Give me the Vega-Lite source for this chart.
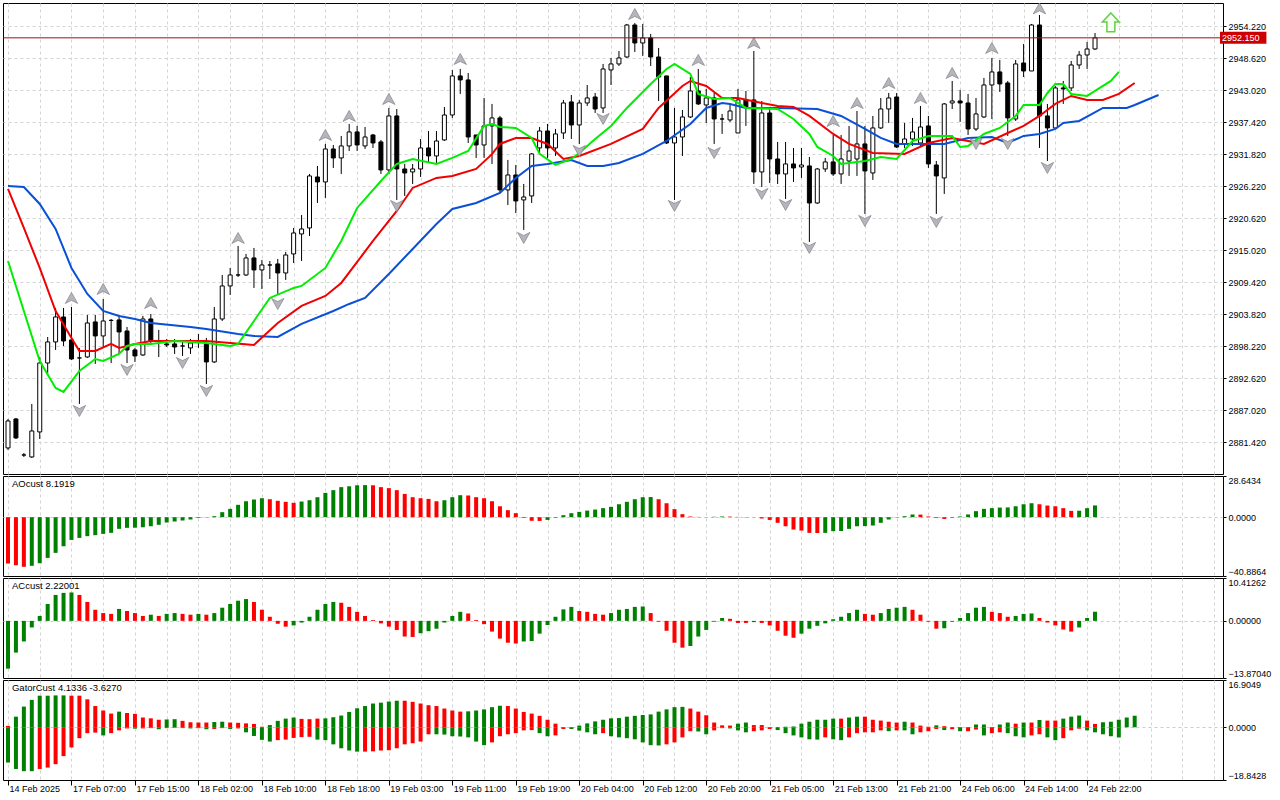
{
  "$schema": "https://vega.github.io/schema/vega-lite/v6.json",
  "description": "Gold H1 with Alligator, fractals, AO, AC and Gator panels",
  "background": "white",
  "padding": {"left": 2, "top": 2, "right": 0, "bottom": 0},
  "bounds": "flush",
  "spacing": 2,
  "config": {
    "view": {"stroke": "#000000", "strokeWidth": 1},
    "axis": {"labelFont": "Liberation Sans", "labelFontSize": 9, "labelColor": "#000000", "tickColor": "#000000", "gridColor": "#d4d4d4", "gridDash": [3, 3], "domain": false, "tickSize": 3, "labelPadding": 2, "labelOverlap": false},
    "text": {"font": "Liberation Sans", "fontSize": 9.5, "color": "#000000"}
  },
  "datasets": {
    "candles": [
      {"i":0,"o":2880.38,"h":2885.45,"l":2880.03,"c":2885.1},
      {"i":1,"o":2885.45,"h":2885.63,"l":2881.95,"c":2882.13},
      {"i":2,"o":2879.15,"h":2879.5,"l":2878.8,"c":2879.15},
      {"i":3,"o":2878.8,"h":2888.08,"l":2878.63,"c":2883.35},
      {"i":4,"o":2883.18,"h":2896.3,"l":2881.95,"c":2895.25},
      {"i":5,"o":2895.25,"h":2899.8,"l":2893.33,"c":2898.93},
      {"i":6,"o":2898.93,"h":2904.88,"l":2897.53,"c":2903.3},
      {"i":7,"o":2903.3,"h":2904.88,"l":2898.23,"c":2899.1},
      {"i":8,"o":2899.28,"h":2905.05,"l":2895.78,"c":2895.95},
      {"i":9,"o":2896.13,"h":2897.88,"l":2888.08,"c":2896.13},
      {"i":10,"o":2896.3,"h":2903.65,"l":2896.13,"c":2902.25},
      {"i":11,"o":2902.43,"h":2903.65,"l":2895.08,"c":2899.98},
      {"i":12,"o":2899.98,"h":2906.45,"l":2898.05,"c":2902.6},
      {"i":13,"o":2902.7,"h":2902.95,"l":2895.25,"c":2902.7},
      {"i":14,"o":2902.78,"h":2903.65,"l":2896.83,"c":2900.68},
      {"i":15,"o":2900.85,"h":2901.55,"l":2895.25,"c":2897.53},
      {"i":16,"o":2897.53,"h":2897.88,"l":2895.43,"c":2896.48},
      {"i":17,"o":2896.65,"h":2903.48,"l":2896.48,"c":2902.95},
      {"i":18,"o":2902.95,"h":2903.83,"l":2898.75,"c":2899.1},
      {"i":19,"o":2899.1,"h":2901.03,"l":2896.3,"c":2899.1},
      {"i":20,"o":2898.58,"h":2899.45,"l":2898.05,"c":2898.4},
      {"i":21,"o":2898.58,"h":2899.45,"l":2896.83,"c":2898.05},
      {"i":22,"o":2898.23,"h":2899.1,"l":2896.48,"c":2898.23},
      {"i":23,"o":2897.88,"h":2899.45,"l":2896.83,"c":2898.75},
      {"i":24,"o":2899.1,"h":2900.33,"l":2897.88,"c":2899.1},
      {"i":25,"o":2898.58,"h":2899.63,"l":2891.58,"c":2895.43},
      {"i":26,"o":2895.43,"h":2905.05,"l":2895.25,"c":2902.95},
      {"i":27,"o":2902.95,"h":2910.65,"l":2902.6,"c":2908.73},
      {"i":28,"o":2908.73,"h":2911.88,"l":2907.15,"c":2910.65},
      {"i":29,"o":2910.65,"h":2915.73,"l":2910.3,"c":2910.65},
      {"i":30,"o":2910.65,"h":2914.33,"l":2910.48,"c":2913.63},
      {"i":31,"o":2913.63,"h":2915.38,"l":2908.38,"c":2911.53},
      {"i":32,"o":2911.53,"h":2913.28,"l":2908.2,"c":2912.4},
      {"i":33,"o":2912.4,"h":2913.1,"l":2909.95,"c":2912.4},
      {"i":34,"o":2912.58,"h":2913.45,"l":2907.33,"c":2911.0},
      {"i":35,"o":2911.0,"h":2914.68,"l":2909.78,"c":2914.15},
      {"i":36,"o":2914.33,"h":2918.88,"l":2912.75,"c":2918.0},
      {"i":37,"o":2917.83,"h":2921.15,"l":2913.1,"c":2918.7},
      {"i":38,"o":2918.88,"h":2928.33,"l":2917.48,"c":2927.98},
      {"i":39,"o":2927.8,"h":2929.73,"l":2923.25,"c":2926.93},
      {"i":40,"o":2926.93,"h":2933.58,"l":2924.13,"c":2932.7},
      {"i":41,"o":2932.7,"h":2933.4,"l":2929.38,"c":2931.13},
      {"i":42,"o":2931.13,"h":2934.98,"l":2928.33,"c":2933.23},
      {"i":43,"o":2933.23,"h":2937.08,"l":2932.35,"c":2935.68},
      {"i":44,"o":2935.68,"h":2936.73,"l":2932.35,"c":2933.4},
      {"i":45,"o":2933.23,"h":2936.55,"l":2932.7,"c":2934.8},
      {"i":46,"o":2935.15,"h":2935.33,"l":2932.88,"c":2933.75},
      {"i":47,"o":2933.93,"h":2934.28,"l":2928.33,"c":2929.03},
      {"i":48,"o":2929.03,"h":2939.88,"l":2928.33,"c":2938.48},
      {"i":49,"o":2938.48,"h":2939.7,"l":2923.78,"c":2929.2},
      {"i":50,"o":2929.2,"h":2930.08,"l":2924.48,"c":2928.5},
      {"i":51,"o":2928.68,"h":2930.08,"l":2926.58,"c":2929.2},
      {"i":52,"o":2929.2,"h":2934.45,"l":2927.8,"c":2932.88},
      {"i":53,"o":2932.88,"h":2935.85,"l":2930.25,"c":2931.48},
      {"i":54,"o":2931.48,"h":2935.85,"l":2930.25,"c":2934.1},
      {"i":55,"o":2934.28,"h":2940.05,"l":2934.1,"c":2938.65},
      {"i":56,"o":2938.65,"h":2946.53,"l":2938.13,"c":2945.48},
      {"i":57,"o":2945.48,"h":2946.7,"l":2942.33,"c":2944.78},
      {"i":58,"o":2944.78,"h":2946.0,"l":2933.75,"c":2934.8},
      {"i":59,"o":2935.15,"h":2935.15,"l":2931.13,"c":2933.4},
      {"i":60,"o":2933.4,"h":2941.63,"l":2931.13,"c":2936.73},
      {"i":61,"o":2936.73,"h":2940.58,"l":2930.08,"c":2938.13},
      {"i":62,"o":2938.13,"h":2938.48,"l":2925.0,"c":2925.53},
      {"i":63,"o":2925.53,"h":2930.78,"l":2922.9,"c":2928.15},
      {"i":64,"o":2928.15,"h":2929.9,"l":2921.5,"c":2923.6},
      {"i":65,"o":2923.78,"h":2926.58,"l":2918.53,"c":2924.3},
      {"i":66,"o":2924.48,"h":2932.0,"l":2923.25,"c":2931.83},
      {"i":67,"o":2932.88,"h":2936.55,"l":2932.0,"c":2935.85},
      {"i":68,"o":2935.85,"h":2937.08,"l":2931.13,"c":2932.88},
      {"i":69,"o":2932.88,"h":2936.2,"l":2931.48,"c":2935.33},
      {"i":70,"o":2935.5,"h":2941.28,"l":2934.45,"c":2940.75},
      {"i":71,"o":2940.93,"h":2942.15,"l":2934.45,"c":2936.9},
      {"i":72,"o":2936.9,"h":2941.28,"l":2933.58,"c":2940.75},
      {"i":73,"o":2940.75,"h":2943.9,"l":2940.23,"c":2941.63},
      {"i":74,"o":2941.8,"h":2942.5,"l":2939.0,"c":2939.7},
      {"i":75,"o":2939.88,"h":2947.58,"l":2939.0,"c":2946.7},
      {"i":76,"o":2946.53,"h":2948.63,"l":2943.9,"c":2947.58},
      {"i":77,"o":2947.58,"h":2949.85,"l":2947.23,"c":2948.63},
      {"i":78,"o":2948.8,"h":2954.58,"l":2948.63,"c":2954.4},
      {"i":79,"o":2954.4,"h":2954.75,"l":2949.68,"c":2951.25},
      {"i":80,"o":2951.25,"h":2954.58,"l":2948.98,"c":2952.13},
      {"i":81,"o":2952.13,"h":2952.83,"l":2947.23,"c":2948.8},
      {"i":82,"o":2948.8,"h":2950.38,"l":2941.1,"c":2945.3},
      {"i":83,"o":2945.48,"h":2945.48,"l":2933.58,"c":2933.75},
      {"i":84,"o":2933.75,"h":2939.88,"l":2923.78,"c":2934.8},
      {"i":85,"o":2934.8,"h":2939.53,"l":2931.48,"c":2938.3},
      {"i":86,"o":2938.3,"h":2945.3,"l":2938.13,"c":2942.85},
      {"i":87,"o":2942.85,"h":2946.7,"l":2940.4,"c":2940.58},
      {"i":88,"o":2940.4,"h":2943.2,"l":2937.25,"c":2941.63},
      {"i":89,"o":2941.63,"h":2942.5,"l":2933.58,"c":2937.95},
      {"i":90,"o":2937.95,"h":2938.83,"l":2935.33,"c":2937.95},
      {"i":91,"o":2937.78,"h":2940.58,"l":2937.43,"c":2939.35},
      {"i":92,"o":2935.5,"h":2943.2,"l":2935.5,"c":2941.28},
      {"i":93,"o":2941.28,"h":2942.85,"l":2936.73,"c":2940.05},
      {"i":94,"o":2941.28,"h":2949.85,"l":2926.58,"c":2928.68},
      {"i":95,"o":2928.68,"h":2941.1,"l":2926.05,"c":2939.0},
      {"i":96,"o":2939.0,"h":2939.88,"l":2926.75,"c":2930.95},
      {"i":97,"o":2930.95,"h":2933.93,"l":2926.58,"c":2928.33},
      {"i":98,"o":2928.33,"h":2933.93,"l":2923.95,"c":2930.08},
      {"i":99,"o":2930.08,"h":2932.88,"l":2926.93,"c":2929.38},
      {"i":100,"o":2929.55,"h":2932.88,"l":2927.63,"c":2929.9},
      {"i":101,"o":2929.73,"h":2931.3,"l":2916.43,"c":2923.25},
      {"i":102,"o":2923.25,"h":2929.38,"l":2923.08,"c":2929.2},
      {"i":103,"o":2929.2,"h":2931.13,"l":2928.68,"c":2930.43},
      {"i":104,"o":2930.43,"h":2935.15,"l":2927.98,"c":2928.33},
      {"i":105,"o":2928.33,"h":2935.15,"l":2926.58,"c":2930.95},
      {"i":106,"o":2930.6,"h":2936.73,"l":2927.98,"c":2932.35},
      {"i":107,"o":2930.95,"h":2939.35,"l":2927.98,"c":2933.58},
      {"i":108,"o":2933.58,"h":2936.73,"l":2921.33,"c":2928.85},
      {"i":109,"o":2928.5,"h":2938.48,"l":2927.28,"c":2936.38},
      {"i":110,"o":2936.38,"h":2941.63,"l":2936.2,"c":2939.7},
      {"i":111,"o":2939.7,"h":2942.5,"l":2937.25,"c":2941.63},
      {"i":112,"o":2941.8,"h":2942.5,"l":2932.88,"c":2933.05},
      {"i":113,"o":2933.58,"h":2937.25,"l":2932.88,"c":2934.45},
      {"i":114,"o":2934.45,"h":2938.13,"l":2933.23,"c":2935.68},
      {"i":115,"o":2933.75,"h":2940.23,"l":2933.23,"c":2936.55},
      {"i":116,"o":2936.73,"h":2938.48,"l":2929.38,"c":2930.08},
      {"i":117,"o":2929.9,"h":2930.6,"l":2921.33,"c":2927.98},
      {"i":118,"o":2927.63,"h":2940.75,"l":2924.83,"c":2940.58},
      {"i":119,"o":2940.75,"h":2944.6,"l":2939.7,"c":2941.1},
      {"i":120,"o":2941.1,"h":2943.03,"l":2937.43,"c":2940.75},
      {"i":121,"o":2940.75,"h":2942.33,"l":2935.15,"c":2936.2},
      {"i":122,"o":2936.2,"h":2941.63,"l":2935.85,"c":2938.83},
      {"i":123,"o":2938.3,"h":2945.13,"l":2938.13,"c":2943.9},
      {"i":124,"o":2943.9,"h":2948.63,"l":2937.95,"c":2946.18},
      {"i":125,"o":2946.18,"h":2948.28,"l":2942.68,"c":2944.08},
      {"i":126,"o":2944.25,"h":2944.6,"l":2934.98,"c":2938.13},
      {"i":127,"o":2937.95,"h":2948.28,"l":2937.6,"c":2947.58},
      {"i":128,"o":2947.75,"h":2951.08,"l":2945.3,"c":2946.35},
      {"i":129,"o":2946.35,"h":2954.58,"l":2946.35,"c":2954.4},
      {"i":130,"o":2954.4,"h":2956.15,"l":2932.88,"c":2938.48},
      {"i":131,"o":2938.48,"h":2940.58,"l":2930.6,"c":2936.38},
      {"i":132,"o":2936.38,"h":2943.73,"l":2936.2,"c":2943.38},
      {"i":133,"o":2943.38,"h":2944.6,"l":2940.58,"c":2943.2},
      {"i":134,"o":2943.38,"h":2948.1,"l":2942.85,"c":2947.4},
      {"i":135,"o":2947.4,"h":2949.85,"l":2946.7,"c":2949.15},
      {"i":136,"o":2949.15,"h":2951.43,"l":2946.7,"c":2950.2},
      {"i":137,"o":2950.2,"h":2953.0,"l":2950.03,"c":2952.15}
    ],
    "alli": [
      {"s":"jaw","i":0,"v":2926.22},{"s":"jaw","i":2,"v":2926.05},{"s":"jaw","i":4,"v":2923.08},{"s":"jaw","i":6,"v":2918.7},
      {"s":"jaw","i":8,"v":2911.88},{"s":"jaw","i":10,"v":2907.33},{"s":"jaw","i":12,"v":2904.35},{"s":"jaw","i":14,"v":2903.48},
      {"s":"jaw","i":16,"v":2902.95},{"s":"jaw","i":18,"v":2902.25},{"s":"jaw","i":23,"v":2901.55},{"s":"jaw","i":25,"v":2901.2},
      {"s":"jaw","i":29,"v":2900.33},{"s":"jaw","i":31,"v":2899.98},{"s":"jaw","i":34,"v":2899.8},{"s":"jaw","i":37,"v":2902.08},
      {"s":"jaw","i":41,"v":2904.35},{"s":"jaw","i":43,"v":2905.58},{"s":"jaw","i":45,"v":2906.63},{"s":"jaw","i":48,"v":2910.83},
      {"s":"jaw","i":51,"v":2915.2},{"s":"jaw","i":54,"v":2919.58},{"s":"jaw","i":56,"v":2922.2},{"s":"jaw","i":59,"v":2923.25},
      {"s":"jaw","i":62,"v":2925.0},{"s":"jaw","i":64,"v":2927.63},{"s":"jaw","i":66,"v":2929.73},{"s":"jaw","i":68,"v":2930.08},
      {"s":"jaw","i":71,"v":2930.78},{"s":"jaw","i":73,"v":2929.73},{"s":"jaw","i":75,"v":2929.73},{"s":"jaw","i":77,"v":2930.25},
      {"s":"jaw","i":80,"v":2931.83},{"s":"jaw","i":83,"v":2934.1},{"s":"jaw","i":86,"v":2937.08},{"s":"jaw","i":88,"v":2939.88},
      {"s":"jaw","i":90,"v":2940.75},{"s":"jaw","i":91,"v":2940.58},{"s":"jaw","i":93,"v":2939.88},{"s":"jaw","i":97,"v":2939.88},
      {"s":"jaw","i":102,"v":2939.7},{"s":"jaw","i":105,"v":2938.48},{"s":"jaw","i":108,"v":2936.2},{"s":"jaw","i":110,"v":2934.63},
      {"s":"jaw","i":112,"v":2933.58},{"s":"jaw","i":116,"v":2933.58},{"s":"jaw","i":118,"v":2933.58},{"s":"jaw","i":121,"v":2934.63},
      {"s":"jaw","i":124,"v":2934.8},{"s":"jaw","i":126,"v":2933.75},{"s":"jaw","i":128,"v":2934.98},{"s":"jaw","i":130,"v":2935.33},
      {"s":"jaw","i":132,"v":2936.2},{"s":"jaw","i":133,"v":2937.25},{"s":"jaw","i":135,"v":2937.6},{"s":"jaw","i":138,"v":2939.88},
      {"s":"jaw","i":141,"v":2939.88},{"s":"jaw","i":142,"v":2940.4},{"s":"jaw","i":145,"v":2942.15},
      {"s":"teeth","i":0,"v":2925.7},{"s":"teeth","i":2,"v":2918.88},{"s":"teeth","i":4,"v":2911.88},{"s":"teeth","i":6,"v":2904.35},
      {"s":"teeth","i":8,"v":2899.63},{"s":"teeth","i":9,"v":2897.35},{"s":"teeth","i":11,"v":2897.35},{"s":"teeth","i":13,"v":2898.58},
      {"s":"teeth","i":14,"v":2897.88},{"s":"teeth","i":16,"v":2898.58},{"s":"teeth","i":18,"v":2899.1},{"s":"teeth","i":25,"v":2899.1},
      {"s":"teeth","i":31,"v":2898.4},{"s":"teeth","i":34,"v":2902.25},{"s":"teeth","i":37,"v":2905.23},{"s":"teeth","i":40,"v":2906.98},
      {"s":"teeth","i":42,"v":2909.25},{"s":"teeth","i":46,"v":2916.6},{"s":"teeth","i":49,"v":2921.85},{"s":"teeth","i":51,"v":2925.88},
      {"s":"teeth","i":54,"v":2927.63},{"s":"teeth","i":56,"v":2927.98},{"s":"teeth","i":59,"v":2929.2},{"s":"teeth","i":61,"v":2931.8},
      {"s":"teeth","i":62,"v":2933.58},{"s":"teeth","i":64,"v":2934.63},{"s":"teeth","i":66,"v":2934.63},{"s":"teeth","i":68,"v":2933.58},
      {"s":"teeth","i":70,"v":2930.95},{"s":"teeth","i":72,"v":2931.48},{"s":"teeth","i":76,"v":2933.58},{"s":"teeth","i":80,"v":2936.2},
      {"s":"teeth","i":82,"v":2939.88},{"s":"teeth","i":85,"v":2943.73},{"s":"teeth","i":86,"v":2944.6},{"s":"teeth","i":88,"v":2943.73},
      {"s":"teeth","i":90,"v":2941.63},{"s":"teeth","i":92,"v":2941.63},{"s":"teeth","i":95,"v":2940.75},{"s":"teeth","i":97,"v":2940.23},
      {"s":"teeth","i":99,"v":2940.05},{"s":"teeth","i":101,"v":2938.48},{"s":"teeth","i":104,"v":2935.33},{"s":"teeth","i":106,"v":2933.58},
      {"s":"teeth","i":109,"v":2932.0},{"s":"teeth","i":113,"v":2931.83},{"s":"teeth","i":116,"v":2933.75},{"s":"teeth","i":119,"v":2934.63},
      {"s":"teeth","i":121,"v":2934.1},{"s":"teeth","i":123,"v":2933.58},{"s":"teeth","i":126,"v":2935.5},{"s":"teeth","i":128,"v":2936.73},
      {"s":"teeth","i":130,"v":2938.48},{"s":"teeth","i":132,"v":2940.58},{"s":"teeth","i":134,"v":2941.98},{"s":"teeth","i":136,"v":2941.28},
      {"s":"teeth","i":138,"v":2941.28},{"s":"teeth","i":140,"v":2942.33},{"s":"teeth","i":142,"v":2944.25},
      {"s":"lips","i":0,"v":2913.1},{"s":"lips","i":2,"v":2904.35},{"s":"lips","i":4,"v":2895.6},{"s":"lips","i":6,"v":2890.88},
      {"s":"lips","i":7,"v":2890.18},{"s":"lips","i":9,"v":2893.85},{"s":"lips","i":11,"v":2895.95},{"s":"lips","i":12,"v":2895.6},
      {"s":"lips","i":14,"v":2896.83},{"s":"lips","i":15,"v":2898.23},{"s":"lips","i":16,"v":2898.58},{"s":"lips","i":18,"v":2898.58},
      {"s":"lips","i":21,"v":2899.1},{"s":"lips","i":25,"v":2898.75},{"s":"lips","i":28,"v":2898.23},{"s":"lips","i":29,"v":2898.58},
      {"s":"lips","i":31,"v":2902.6},{"s":"lips","i":33,"v":2906.63},{"s":"lips","i":36,"v":2908.38},{"s":"lips","i":37,"v":2908.73},
      {"s":"lips","i":40,"v":2911.88},{"s":"lips","i":42,"v":2916.6},{"s":"lips","i":44,"v":2922.38},{"s":"lips","i":47,"v":2927.1},
      {"s":"lips","i":49,"v":2930.08},{"s":"lips","i":51,"v":2930.95},{"s":"lips","i":54,"v":2930.08},{"s":"lips","i":56,"v":2931.13},
      {"s":"lips","i":58,"v":2932.35},{"s":"lips","i":60,"v":2936.73},{"s":"lips","i":61,"v":2937.08},{"s":"lips","i":62,"v":2936.55},
      {"s":"lips","i":64,"v":2936.38},{"s":"lips","i":66,"v":2934.63},{"s":"lips","i":67,"v":2931.83},{"s":"lips","i":69,"v":2929.9},
      {"s":"lips","i":71,"v":2930.95},{"s":"lips","i":72,"v":2932.0},{"s":"lips","i":74,"v":2934.45},{"s":"lips","i":76,"v":2936.73},
      {"s":"lips","i":78,"v":2939.88},{"s":"lips","i":81,"v":2944.08},{"s":"lips","i":83,"v":2946.7},{"s":"lips","i":84,"v":2947.58},
      {"s":"lips","i":86,"v":2945.83},{"s":"lips","i":87,"v":2942.33},{"s":"lips","i":89,"v":2941.45},{"s":"lips","i":91,"v":2941.63},
      {"s":"lips","i":93,"v":2939.88},{"s":"lips","i":97,"v":2939.7},{"s":"lips","i":99,"v":2937.95},{"s":"lips","i":101,"v":2935.33},
      {"s":"lips","i":102,"v":2933.05},{"s":"lips","i":104,"v":2931.48},{"s":"lips","i":105,"v":2930.08},{"s":"lips","i":108,"v":2930.6},
      {"s":"lips","i":110,"v":2931.3},{"s":"lips","i":112,"v":2930.95},{"s":"lips","i":114,"v":2934.1},{"s":"lips","i":116,"v":2934.98},
      {"s":"lips","i":119,"v":2934.98},{"s":"lips","i":120,"v":2933.05},{"s":"lips","i":121,"v":2933.23},{"s":"lips","i":123,"v":2935.33},
      {"s":"lips","i":125,"v":2936.38},{"s":"lips","i":127,"v":2938.48},{"s":"lips","i":128,"v":2940.4},{"s":"lips","i":130,"v":2940.4},
      {"s":"lips","i":131,"v":2942.5},{"s":"lips","i":132,"v":2944.08},{"s":"lips","i":133,"v":2944.08},{"s":"lips","i":134,"v":2942.33},
      {"s":"lips","i":136,"v":2941.98},{"s":"lips","i":137,"v":2942.85},{"s":"lips","i":139,"v":2944.6},{"s":"lips","i":140,"v":2946.18}
    ],
    "fractals": [
      {"i":8,"p":2906.63,"t":"up"},{"i":12,"p":2908.2,"t":"up"},{"i":18,"p":2905.75,"t":"up"},{"i":29,"p":2917.13,"t":"up"},
      {"i":40,"p":2935.15,"t":"up"},{"i":43,"p":2938.48,"t":"up"},{"i":48,"p":2941.45,"t":"up"},{"i":57,"p":2948.45,"t":"up"},
      {"i":79,"p":2956.32,"t":"up"},{"i":87,"p":2948.28,"t":"up"},{"i":94,"p":2951.25,"t":"up"},{"i":104,"p":2937.6,"t":"up"},
      {"i":107,"p":2940.75,"t":"up"},{"i":111,"p":2944.25,"t":"up"},{"i":115,"p":2941.63,"t":"up"},{"i":119,"p":2946.0,"t":"up"},
      {"i":124,"p":2950.38,"t":"up"},{"i":130,"p":2957.3,"t":"up"},
      {"i":9,"p":2886.85,"t":"down"},{"i":15,"p":2894.03,"t":"down"},{"i":22,"p":2895.25,"t":"down"},{"i":25,"p":2890.35,"t":"down"},
      {"i":34,"p":2905.58,"t":"down"},{"i":49,"p":2922.73,"t":"down"},{"i":65,"p":2917.13,"t":"down"},{"i":72,"p":2932.35,"t":"down"},
      {"i":75,"p":2937.95,"t":"down"},{"i":84,"p":2922.73,"t":"down"},{"i":89,"p":2932.0,"t":"down"},{"i":95,"p":2924.83,"t":"down"},
      {"i":98,"p":2922.9,"t":"down"},{"i":101,"p":2915.38,"t":"down"},{"i":108,"p":2920.1,"t":"down"},{"i":117,"p":2919.93,"t":"down"},
      {"i":122,"p":2933.58,"t":"down"},{"i":126,"p":2933.58,"t":"down"},{"i":131,"p":2929.38,"t":"down"}
    ],
    "ao": [
      {"i":0,"v":-32.2,"t":"down"},{"i":1,"v":-33.4,"t":"down"},{"i":2,"v":-34.5,"t":"down"},{"i":3,"v":-33.8,"t":"up"},
      {"i":4,"v":-32.0,"t":"up"},{"i":5,"v":-28.3,"t":"up"},{"i":6,"v":-24.8,"t":"up"},{"i":7,"v":-20.2,"t":"up"},
      {"i":8,"v":-15.8,"t":"up"},{"i":9,"v":-14.4,"t":"up"},{"i":10,"v":-13.2,"t":"up"},{"i":11,"v":-12.5,"t":"up"},
      {"i":12,"v":-11.6,"t":"up"},{"i":13,"v":-10.9,"t":"up"},{"i":14,"v":-8.1,"t":"up"},{"i":15,"v":-7.4,"t":"up"},
      {"i":16,"v":-7.3,"t":"up"},{"i":17,"v":-7.0,"t":"up"},{"i":18,"v":-6.3,"t":"up"},{"i":19,"v":-5.3,"t":"up"},
      {"i":20,"v":-3.7,"t":"up"},{"i":21,"v":-3.0,"t":"up"},{"i":22,"v":-2.3,"t":"up"},{"i":23,"v":-1.6,"t":"up"},
      {"i":24,"v":-0.5,"t":"up"},{"i":25,"v":-0.2,"t":"up"},{"i":26,"v":0.7,"t":"up"},{"i":27,"v":3.5,"t":"up"},
      {"i":28,"v":5.8,"t":"up"},{"i":29,"v":8.6,"t":"up"},{"i":30,"v":11.1,"t":"up"},{"i":31,"v":12.3,"t":"up"},
      {"i":32,"v":13.2,"t":"up"},{"i":33,"v":12.5,"t":"down"},{"i":34,"v":11.4,"t":"down"},{"i":35,"v":10.7,"t":"down"},
      {"i":36,"v":10.0,"t":"down"},{"i":37,"v":10.9,"t":"up"},{"i":38,"v":11.8,"t":"up"},{"i":39,"v":13.9,"t":"up"},
      {"i":40,"v":16.9,"t":"up"},{"i":41,"v":18.8,"t":"up"},{"i":42,"v":20.9,"t":"up"},{"i":43,"v":21.5,"t":"up"},
      {"i":44,"v":22.2,"t":"up"},{"i":45,"v":22.3,"t":"up"},{"i":46,"v":22.2,"t":"down"},{"i":47,"v":20.9,"t":"down"},
      {"i":48,"v":20.2,"t":"down"},{"i":49,"v":18.8,"t":"down"},{"i":50,"v":16.2,"t":"down"},{"i":51,"v":13.9,"t":"down"},
      {"i":52,"v":13.2,"t":"down"},{"i":53,"v":12.7,"t":"down"},{"i":54,"v":11.1,"t":"down"},{"i":55,"v":11.8,"t":"up"},
      {"i":56,"v":13.9,"t":"up"},{"i":57,"v":15.3,"t":"up"},{"i":58,"v":15.1,"t":"down"},{"i":59,"v":13.9,"t":"down"},
      {"i":60,"v":13.2,"t":"down"},{"i":61,"v":11.1,"t":"down"},{"i":62,"v":7.6,"t":"down"},{"i":63,"v":4.9,"t":"down"},
      {"i":64,"v":2.8,"t":"down"},{"i":65,"v":-0.5,"t":"down"},{"i":66,"v":-2.5,"t":"down"},{"i":67,"v":-2.6,"t":"down"},
      {"i":68,"v":-1.9,"t":"up"},{"i":69,"v":-0.4,"t":"up"},{"i":70,"v":1.4,"t":"up"},{"i":71,"v":2.8,"t":"up"},
      {"i":72,"v":3.7,"t":"up"},{"i":73,"v":4.6,"t":"up"},{"i":74,"v":5.3,"t":"up"},{"i":75,"v":6.3,"t":"up"},
      {"i":76,"v":7.2,"t":"up"},{"i":77,"v":9.0,"t":"up"},{"i":78,"v":10.7,"t":"up"},{"i":79,"v":12.5,"t":"up"},
      {"i":80,"v":13.9,"t":"up"},{"i":81,"v":14.0,"t":"up"},{"i":82,"v":12.5,"t":"down"},{"i":83,"v":9.7,"t":"down"},
      {"i":84,"v":5.6,"t":"down"},{"i":85,"v":2.1,"t":"down"},{"i":86,"v":0.5,"t":"down"},{"i":87,"v":0.2,"t":"down"},
      {"i":88,"v":0.1,"t":"down"},{"i":89,"v":0.3,"t":"up"},{"i":90,"v":0.5,"t":"up"},{"i":91,"v":0.4,"t":"down"},
      {"i":92,"v":0.2,"t":"down"},{"i":93,"v":-0.2,"t":"down"},{"i":94,"v":-0.1,"t":"up"},{"i":95,"v":-0.9,"t":"down"},
      {"i":96,"v":-1.9,"t":"down"},{"i":97,"v":-3.9,"t":"down"},{"i":98,"v":-6.3,"t":"down"},{"i":99,"v":-8.6,"t":"down"},
      {"i":100,"v":-9.3,"t":"down"},{"i":101,"v":-10.9,"t":"down"},{"i":102,"v":-11.0,"t":"down"},{"i":103,"v":-10.9,"t":"up"},
      {"i":104,"v":-9.7,"t":"up"},{"i":105,"v":-9.6,"t":"up"},{"i":106,"v":-8.1,"t":"up"},{"i":107,"v":-6.3,"t":"up"},
      {"i":108,"v":-6.2,"t":"up"},{"i":109,"v":-5.8,"t":"up"},{"i":110,"v":-3.9,"t":"up"},{"i":111,"v":-1.6,"t":"up"},
      {"i":112,"v":-0.2,"t":"up"},{"i":113,"v":0.7,"t":"up"},{"i":114,"v":1.9,"t":"up"},{"i":115,"v":1.8,"t":"down"},
      {"i":116,"v":0.5,"t":"down"},{"i":117,"v":-0.5,"t":"down"},{"i":118,"v":-1.2,"t":"down"},{"i":119,"v":-0.4,"t":"up"},
      {"i":120,"v":0.5,"t":"up"},{"i":121,"v":1.9,"t":"up"},{"i":122,"v":4.2,"t":"up"},{"i":123,"v":5.8,"t":"up"},
      {"i":124,"v":6.3,"t":"up"},{"i":125,"v":6.7,"t":"up"},{"i":126,"v":6.8,"t":"up"},{"i":127,"v":7.6,"t":"up"},
      {"i":128,"v":9.0,"t":"up"},{"i":129,"v":9.7,"t":"up"},{"i":130,"v":9.0,"t":"down"},{"i":131,"v":8.1,"t":"down"},
      {"i":132,"v":7.6,"t":"down"},{"i":133,"v":6.3,"t":"down"},{"i":134,"v":4.4,"t":"down"},{"i":135,"v":4.5,"t":"up"},
      {"i":136,"v":6.3,"t":"up"},{"i":137,"v":8.19,"t":"up"}
    ],
    "ac": [
      {"i":0,"v":-11.6,"t":"up"},{"i":1,"v":-7.7,"t":"up"},{"i":2,"v":-5.0,"t":"up"},{"i":3,"v":-1.6,"t":"up"},
      {"i":4,"v":1.2,"t":"up"},{"i":5,"v":4.1,"t":"up"},{"i":6,"v":6.3,"t":"up"},{"i":7,"v":6.8,"t":"up"},
      {"i":8,"v":6.9,"t":"up"},{"i":9,"v":6.3,"t":"down"},{"i":10,"v":4.6,"t":"down"},{"i":11,"v":2.7,"t":"down"},
      {"i":12,"v":1.9,"t":"down"},{"i":13,"v":1.7,"t":"down"},{"i":14,"v":2.9,"t":"up"},{"i":15,"v":2.4,"t":"down"},
      {"i":16,"v":1.9,"t":"down"},{"i":17,"v":1.2,"t":"down"},{"i":18,"v":1.5,"t":"up"},{"i":19,"v":1.2,"t":"down"},
      {"i":20,"v":1.7,"t":"up"},{"i":21,"v":1.9,"t":"up"},{"i":22,"v":1.7,"t":"down"},{"i":23,"v":1.5,"t":"down"},
      {"i":24,"v":1.7,"t":"up"},{"i":25,"v":1.5,"t":"down"},{"i":26,"v":1.9,"t":"up"},{"i":27,"v":3.2,"t":"up"},
      {"i":28,"v":4.1,"t":"up"},{"i":29,"v":4.9,"t":"up"},{"i":30,"v":5.3,"t":"up"},{"i":31,"v":4.6,"t":"down"},
      {"i":32,"v":2.7,"t":"down"},{"i":33,"v":1.0,"t":"down"},{"i":34,"v":-0.7,"t":"down"},{"i":35,"v":-1.4,"t":"down"},
      {"i":36,"v":-1.1,"t":"up"},{"i":37,"v":-0.4,"t":"up"},{"i":38,"v":1.0,"t":"up"},{"i":39,"v":2.7,"t":"up"},
      {"i":40,"v":4.1,"t":"up"},{"i":41,"v":4.6,"t":"up"},{"i":42,"v":4.4,"t":"down"},{"i":43,"v":3.4,"t":"down"},
      {"i":44,"v":2.2,"t":"down"},{"i":45,"v":1.2,"t":"down"},{"i":46,"v":0.2,"t":"down"},{"i":47,"v":-0.6,"t":"down"},
      {"i":48,"v":-1.4,"t":"down"},{"i":49,"v":-2.2,"t":"down"},{"i":50,"v":-3.8,"t":"down"},{"i":51,"v":-3.9,"t":"down"},
      {"i":52,"v":-3.0,"t":"up"},{"i":53,"v":-2.5,"t":"up"},{"i":54,"v":-1.9,"t":"up"},{"i":55,"v":-0.4,"t":"up"},
      {"i":56,"v":1.2,"t":"up"},{"i":57,"v":2.2,"t":"up"},{"i":58,"v":1.8,"t":"down"},{"i":59,"v":0.2,"t":"down"},
      {"i":60,"v":-0.8,"t":"down"},{"i":61,"v":-2.6,"t":"down"},{"i":62,"v":-4.3,"t":"down"},{"i":63,"v":-5.3,"t":"down"},
      {"i":64,"v":-5.5,"t":"down"},{"i":65,"v":-5.0,"t":"up"},{"i":66,"v":-4.9,"t":"up"},{"i":67,"v":-3.1,"t":"up"},
      {"i":68,"v":-1.0,"t":"up"},{"i":69,"v":1.0,"t":"up"},{"i":70,"v":2.8,"t":"up"},{"i":71,"v":3.4,"t":"up"},
      {"i":72,"v":2.4,"t":"down"},{"i":73,"v":2.2,"t":"down"},{"i":74,"v":1.7,"t":"down"},{"i":75,"v":1.5,"t":"down"},
      {"i":76,"v":1.9,"t":"up"},{"i":77,"v":2.7,"t":"up"},{"i":78,"v":2.9,"t":"up"},{"i":79,"v":3.4,"t":"up"},
      {"i":80,"v":3.5,"t":"up"},{"i":81,"v":1.9,"t":"down"},{"i":82,"v":-0.2,"t":"down"},{"i":83,"v":-2.4,"t":"down"},
      {"i":84,"v":-5.3,"t":"down"},{"i":85,"v":-6.5,"t":"down"},{"i":86,"v":-6.1,"t":"up"},{"i":87,"v":-3.8,"t":"up"},
      {"i":88,"v":-2.2,"t":"up"},{"i":89,"v":-0.2,"t":"up"},{"i":90,"v":0.7,"t":"up"},{"i":91,"v":0.5,"t":"down"},
      {"i":92,"v":-0.5,"t":"down"},{"i":93,"v":-0.5,"t":"down"},{"i":94,"v":-0.3,"t":"up"},{"i":95,"v":-0.5,"t":"down"},
      {"i":96,"v":-1.1,"t":"down"},{"i":97,"v":-2.4,"t":"down"},{"i":98,"v":-3.6,"t":"down"},{"i":99,"v":-4.1,"t":"down"},
      {"i":100,"v":-3.1,"t":"up"},{"i":101,"v":-1.9,"t":"up"},{"i":102,"v":-1.2,"t":"up"},{"i":103,"v":-0.6,"t":"up"},
      {"i":104,"v":0.4,"t":"up"},{"i":105,"v":1.0,"t":"up"},{"i":106,"v":1.9,"t":"up"},{"i":107,"v":2.7,"t":"up"},
      {"i":108,"v":1.7,"t":"down"},{"i":109,"v":1.5,"t":"down"},{"i":110,"v":1.9,"t":"up"},{"i":111,"v":2.9,"t":"up"},
      {"i":112,"v":3.2,"t":"up"},{"i":113,"v":3.4,"t":"up"},{"i":114,"v":2.7,"t":"down"},{"i":115,"v":1.5,"t":"down"},
      {"i":116,"v":-0.2,"t":"down"},{"i":117,"v":-1.9,"t":"down"},{"i":118,"v":-1.8,"t":"up"},{"i":119,"v":-0.2,"t":"up"},
      {"i":120,"v":0.7,"t":"up"},{"i":121,"v":1.9,"t":"up"},{"i":122,"v":3.2,"t":"up"},{"i":123,"v":3.4,"t":"up"},
      {"i":124,"v":2.2,"t":"down"},{"i":125,"v":1.9,"t":"down"},{"i":126,"v":1.0,"t":"down"},{"i":127,"v":1.2,"t":"up"},
      {"i":128,"v":1.7,"t":"up"},{"i":129,"v":1.8,"t":"up"},{"i":130,"v":0.7,"t":"down"},{"i":131,"v":-0.4,"t":"down"},
      {"i":132,"v":-1.1,"t":"down"},{"i":133,"v":-2.1,"t":"down"},{"i":134,"v":-2.6,"t":"down"},{"i":135,"v":-1.6,"t":"up"},
      {"i":136,"v":0.7,"t":"up"},{"i":137,"v":2.22,"t":"up"}
    ],
    "gator": [
      {"i":0,"u":0.5,"ut":"down","d":-12.6,"dt":"up"},{"i":1,"u":3.8,"ut":"up","d":-14.9,"dt":"up"},
      {"i":2,"u":7.4,"ut":"up","d":-15.7,"dt":"up"},{"i":3,"u":9.8,"ut":"up","d":-15.7,"dt":"up"},
      {"i":4,"u":11.3,"ut":"up","d":-14.9,"dt":"down"},{"i":5,"u":11.3,"ut":"up","d":-14.4,"dt":"down"},
      {"i":6,"u":11.4,"ut":"up","d":-13.2,"dt":"down"},{"i":7,"u":11.4,"ut":"up","d":-10.3,"dt":"down"},
      {"i":8,"u":11.3,"ut":"down","d":-7.2,"dt":"down"},{"i":9,"u":11.3,"ut":"down","d":-3.9,"dt":"down"},
      {"i":10,"u":10.0,"ut":"down","d":-2.1,"dt":"down"},{"i":11,"u":7.6,"ut":"down","d":-1.9,"dt":"down"},
      {"i":12,"u":6.0,"ut":"down","d":-2.9,"dt":"up"},{"i":13,"u":4.9,"ut":"down","d":-2.1,"dt":"down"},
      {"i":14,"u":5.6,"ut":"up","d":-1.1,"dt":"down"},{"i":15,"u":5.1,"ut":"down","d":-0.4,"dt":"down"},
      {"i":16,"u":4.8,"ut":"down","d":-0.5,"dt":"up"},{"i":17,"u":3.5,"ut":"down","d":-0.4,"dt":"down"},
      {"i":18,"u":3.2,"ut":"down","d":-0.3,"dt":"down"},{"i":19,"u":2.7,"ut":"down","d":-0.7,"dt":"up"},
      {"i":20,"u":2.8,"ut":"up","d":-0.3,"dt":"down"},{"i":21,"u":2.9,"ut":"up","d":-0.2,"dt":"down"},
      {"i":22,"u":2.3,"ut":"down","d":-0.3,"dt":"up"},{"i":23,"u":1.8,"ut":"down","d":-0.4,"dt":"up"},
      {"i":24,"u":1.7,"ut":"down","d":-0.3,"dt":"down"},{"i":25,"u":1.7,"ut":"down","d":-0.7,"dt":"up"},
      {"i":26,"u":1.9,"ut":"up","d":-0.6,"dt":"down"},{"i":27,"u":2.0,"ut":"up","d":-0.3,"dt":"down"},
      {"i":28,"u":1.7,"ut":"down","d":-0.6,"dt":"up"},{"i":29,"u":1.6,"ut":"down","d":-0.4,"dt":"down"},
      {"i":30,"u":1.4,"ut":"down","d":-1.8,"dt":"up"},{"i":31,"u":1.2,"ut":"down","d":-3.1,"dt":"up"},
      {"i":32,"u":0.2,"ut":"down","d":-4.5,"dt":"up"},{"i":33,"u":0.8,"ut":"up","d":-5.1,"dt":"up"},
      {"i":34,"u":2.3,"ut":"up","d":-4.6,"dt":"down"},{"i":35,"u":3.1,"ut":"up","d":-4.4,"dt":"down"},
      {"i":36,"u":3.5,"ut":"up","d":-3.8,"dt":"down"},{"i":37,"u":3.0,"ut":"down","d":-3.5,"dt":"down"},
      {"i":38,"u":2.9,"ut":"down","d":-3.4,"dt":"down"},{"i":39,"u":3.1,"ut":"down","d":-4.4,"dt":"up"},
      {"i":40,"u":3.2,"ut":"up","d":-4.6,"dt":"up"},{"i":41,"u":3.6,"ut":"up","d":-6.1,"dt":"up"},
      {"i":42,"u":4.2,"ut":"up","d":-7.5,"dt":"up"},{"i":43,"u":5.5,"ut":"up","d":-8.3,"dt":"up"},
      {"i":44,"u":6.8,"ut":"up","d":-8.7,"dt":"up"},{"i":45,"u":7.6,"ut":"up","d":-8.7,"dt":"down"},
      {"i":46,"u":8.5,"ut":"up","d":-8.6,"dt":"down"},{"i":47,"u":8.8,"ut":"up","d":-8.3,"dt":"down"},
      {"i":48,"u":9.2,"ut":"up","d":-8.2,"dt":"down"},{"i":49,"u":9.5,"ut":"up","d":-7.5,"dt":"down"},
      {"i":50,"u":9.5,"ut":"down","d":-6.1,"dt":"down"},{"i":51,"u":9.1,"ut":"down","d":-5.7,"dt":"down"},
      {"i":52,"u":8.5,"ut":"down","d":-5.1,"dt":"down"},{"i":53,"u":7.9,"ut":"down","d":-2.5,"dt":"down"},
      {"i":54,"u":7.6,"ut":"down","d":-2.5,"dt":"up"},{"i":55,"u":6.7,"ut":"down","d":-2.6,"dt":"up"},
      {"i":56,"u":6.0,"ut":"down","d":-3.2,"dt":"up"},{"i":57,"u":5.6,"ut":"down","d":-3.3,"dt":"up"},
      {"i":58,"u":5.7,"ut":"up","d":-3.6,"dt":"up"},{"i":59,"u":6.0,"ut":"up","d":-5.1,"dt":"up"},
      {"i":60,"u":6.4,"ut":"up","d":-6.4,"dt":"up"},{"i":61,"u":7.2,"ut":"up","d":-5.4,"dt":"down"},
      {"i":62,"u":7.7,"ut":"up","d":-3.2,"dt":"down"},{"i":63,"u":7.6,"ut":"down","d":-2.5,"dt":"down"},
      {"i":64,"u":6.7,"ut":"down","d":-2.1,"dt":"down"},{"i":65,"u":5.5,"ut":"down","d":-1.1,"dt":"down"},
      {"i":66,"u":4.9,"ut":"down","d":-1.0,"dt":"down"},{"i":67,"u":4.1,"ut":"down","d":-2.1,"dt":"up"},
      {"i":68,"u":2.7,"ut":"down","d":-3.2,"dt":"up"},{"i":69,"u":1.3,"ut":"down","d":-2.9,"dt":"down"},
      {"i":70,"u":0.1,"ut":"down","d":-0.6,"dt":"down"},{"i":71,"u":0.1,"ut":"up","d":-0.6,"dt":"up"},
      {"i":72,"u":0.6,"ut":"up","d":-1.2,"dt":"up"},{"i":73,"u":1.4,"ut":"up","d":-1.8,"dt":"up"},
      {"i":74,"u":2.1,"ut":"up","d":-2.5,"dt":"up"},{"i":75,"u":2.7,"ut":"up","d":-2.1,"dt":"down"},
      {"i":76,"u":3.2,"ut":"up","d":-3.2,"dt":"up"},{"i":77,"u":3.3,"ut":"up","d":-3.6,"dt":"up"},
      {"i":78,"u":3.8,"ut":"up","d":-3.9,"dt":"up"},{"i":79,"u":4.1,"ut":"up","d":-4.3,"dt":"up"},
      {"i":80,"u":4.4,"ut":"up","d":-5.4,"dt":"up"},{"i":81,"u":4.6,"ut":"up","d":-6.4,"dt":"up"},
      {"i":82,"u":5.6,"ut":"up","d":-6.5,"dt":"up"},{"i":83,"u":6.4,"ut":"up","d":-6.1,"dt":"down"},
      {"i":84,"u":7.2,"ut":"up","d":-5.4,"dt":"down"},{"i":85,"u":7.3,"ut":"up","d":-3.6,"dt":"down"},
      {"i":86,"u":6.7,"ut":"down","d":-1.4,"dt":"down"},{"i":87,"u":5.6,"ut":"down","d":-1.5,"dt":"up"},
      {"i":88,"u":4.3,"ut":"down","d":-2.5,"dt":"up"},{"i":89,"u":1.7,"ut":"down","d":-1.1,"dt":"down"},
      {"i":90,"u":0.7,"ut":"down","d":-0.3,"dt":"down"},{"i":91,"u":0.6,"ut":"down","d":-0.4,"dt":"up"},
      {"i":92,"u":1.3,"ut":"up","d":-1.1,"dt":"up"},{"i":93,"u":1.7,"ut":"up","d":-1.8,"dt":"up"},
      {"i":94,"u":0.8,"ut":"down","d":-1.4,"dt":"down"},{"i":95,"u":0.8,"ut":"down","d":-1.1,"dt":"down"},
      {"i":96,"u":0.1,"ut":"down","d":-0.6,"dt":"down"},{"i":97,"u":0.1,"ut":"up","d":-1.0,"dt":"up"},
      {"i":98,"u":0.2,"ut":"up","d":-2.1,"dt":"up"},{"i":99,"u":0.3,"ut":"up","d":-2.9,"dt":"up"},
      {"i":100,"u":1.3,"ut":"up","d":-3.6,"dt":"up"},{"i":101,"u":2.0,"ut":"up","d":-4.3,"dt":"up"},
      {"i":102,"u":2.7,"ut":"up","d":-4.4,"dt":"up"},{"i":103,"u":2.7,"ut":"up","d":-3.6,"dt":"down"},
      {"i":104,"u":3.1,"ut":"up","d":-4.3,"dt":"up"},{"i":105,"u":3.1,"ut":"down","d":-4.6,"dt":"up"},
      {"i":106,"u":3.5,"ut":"up","d":-3.6,"dt":"down"},{"i":107,"u":3.8,"ut":"up","d":-2.1,"dt":"down"},
      {"i":108,"u":3.8,"ut":"down","d":-1.8,"dt":"down"},{"i":109,"u":2.7,"ut":"down","d":-1.8,"dt":"down"},
      {"i":110,"u":2.4,"ut":"down","d":-1.1,"dt":"down"},{"i":111,"u":2.0,"ut":"down","d":-1.4,"dt":"up"},
      {"i":112,"u":1.7,"ut":"down","d":-1.1,"dt":"down"},{"i":113,"u":2.0,"ut":"up","d":-1.1,"dt":"up"},
      {"i":114,"u":1.7,"ut":"down","d":-2.5,"dt":"up"},{"i":115,"u":0.6,"ut":"down","d":-1.8,"dt":"down"},
      {"i":116,"u":0.2,"ut":"down","d":-1.4,"dt":"down"},{"i":117,"u":0.7,"ut":"up","d":-0.6,"dt":"down"},
      {"i":118,"u":0.4,"ut":"down","d":-1.0,"dt":"up"},{"i":119,"u":0.1,"ut":"down","d":-0.7,"dt":"down"},
      {"i":120,"u":0.1,"ut":"up","d":-1.4,"dt":"up"},{"i":121,"u":0.1,"ut":"down","d":-1.4,"dt":"down"},
      {"i":122,"u":1.0,"ut":"up","d":-0.8,"dt":"down"},{"i":123,"u":1.0,"ut":"up","d":-2.9,"dt":"up"},
      {"i":124,"u":0.1,"ut":"down","d":-2.1,"dt":"down"},{"i":125,"u":1.0,"ut":"up","d":-1.8,"dt":"down"},
      {"i":126,"u":1.7,"ut":"up","d":-2.1,"dt":"up"},{"i":127,"u":1.3,"ut":"down","d":-3.2,"dt":"up"},
      {"i":128,"u":1.7,"ut":"up","d":-3.6,"dt":"up"},{"i":129,"u":1.7,"ut":"down","d":-2.9,"dt":"down"},
      {"i":130,"u":2.6,"ut":"up","d":-2.5,"dt":"down"},{"i":131,"u":2.4,"ut":"down","d":-3.6,"dt":"up"},
      {"i":132,"u":2.4,"ut":"down","d":-4.6,"dt":"up"},{"i":133,"u":3.1,"ut":"up","d":-3.9,"dt":"down"},
      {"i":134,"u":3.8,"ut":"up","d":-1.1,"dt":"down"},{"i":135,"u":4.2,"ut":"up","d":-0.5,"dt":"down"},
      {"i":136,"u":2.4,"ut":"down","d":-1.1,"dt":"up"},{"i":137,"u":1.2,"ut":"down","d":-1.8,"dt":"up"},
      {"i":138,"u":1.8,"ut":"up","d":-2.5,"dt":"up"},{"i":139,"u":2.0,"ut":"up","d":-3.2,"dt":"up"},
      {"i":140,"u":2.7,"ut":"up","d":-3.63,"dt":"up"},{"i":141,"u":3.5,"ut":"up"},
      {"i":142,"u":4.13,"ut":"up"}
    ]
  },
  "vconcat": [
    {
      "width": 1220,
      "height": 471,
      "layer": [
        {
          "data": {"name": "candles"},
          "mark": {"type": "rule", "color": "#000000", "strokeWidth": 1, "clip": true},
          "encoding": {
            "x": {"field": "i", "type": "quantitative", "scale": {"domain": [0, 152.5], "nice": false, "zero": false},
              "axis": {"values": [0,4,8,12,16,20,24,28,32,36,40,44,48,52,56,60,64,68,72,76,80,84,88,92,96,100,104,108,112,116,120,124,128,132,136,140,144,148,152], "tickCount": 200, "labels": false, "ticks": false, "grid": true, "title": null}},
            "y": {"field": "l", "type": "quantitative", "scale": {"domain": [2875.82, 2958.245], "nice": false, "zero": false},
              "axis": {"orient": "right", "values": [2954.22,2948.62,2943.02,2937.42,2931.82,2926.22,2920.62,2915.02,2909.42,2903.82,2898.22,2892.62,2887.02,2881.42], "tickCount": 200, "format": ".3f", "grid": true, "title": null, "labelFlush": false, "labelOverlap": false}},
            "y2": {"field": "h"}
          }
        },
        {
          "data": {"name": "candles"},
          "mark": {"type": "bar", "size": 4, "stroke": "#000000", "strokeWidth": 1, "clip": true},
          "encoding": {
            "x": {"field": "i", "type": "quantitative", "title": null},
            "y": {"field": "o", "type": "quantitative", "title": null},
            "y2": {"field": "c"},
            "fill": {"condition": {"test": "datum.c >= datum.o", "value": "#ffffff"}, "value": "#000000"}
          }
        },
        {
          "data": {"name": "alli"},
          "transform": [{"filter": "datum.s === 'jaw'"}],
          "mark": {"type": "line", "color": "#0a50d6", "strokeWidth": 2, "clip": true},
          "encoding": {
            "x": {"field": "i", "type": "quantitative", "title": null},
            "y": {"field": "v", "type": "quantitative", "title": null}
          }
        },
        {
          "data": {"name": "alli"},
          "transform": [{"filter": "datum.s === 'teeth'"}],
          "mark": {"type": "line", "color": "#f00000", "strokeWidth": 2, "clip": true},
          "encoding": {
            "x": {"field": "i", "type": "quantitative", "title": null},
            "y": {"field": "v", "type": "quantitative", "title": null}
          }
        },
        {
          "data": {"name": "alli"},
          "transform": [{"filter": "datum.s === 'lips'"}],
          "mark": {"type": "line", "color": "#00ee00", "strokeWidth": 2, "clip": true},
          "encoding": {
            "x": {"field": "i", "type": "quantitative", "title": null},
            "y": {"field": "v", "type": "quantitative", "title": null}
          }
        },
        {
          "data": {"name": "fractals"},
          "mark": {"type": "point", "filled": true, "size": 190, "color": "#b4b6bc", "stroke": "#7f8288", "strokeWidth": 0.7, "opacity": 1, "clip": true},
          "encoding": {
            "x": {"field": "i", "type": "quantitative", "title": null},
            "y": {"field": "p", "type": "quantitative", "title": null},
            "shape": {"field": "t", "type": "nominal", "legend": null,
              "scale": {"domain": ["up", "down"], "range": ["M0,-0.8L0.9,0.8L0,0.35L-0.9,0.8Z", "M0,0.8L0.9,-0.8L0,-0.35L-0.9,-0.8Z"]}}
          }
        },
        {
          "data": {"values": [{"p": 2952.15}]},
          "mark": {"type": "rule", "color": "#a01010", "strokeWidth": 1},
          "encoding": {"y": {"field": "p", "type": "quantitative", "title": null}}
        },
        {
          "data": {"values": [{"p": 2952.15}]},
          "mark": {"type": "rect", "color": "#cc0000"},
          "encoding": {
            "x": {"datum": 152.75, "type": "quantitative", "title": null},
            "x2": {"datum": 158.6},
            "y": {"datum": 2953.2, "type": "quantitative", "title": null},
            "y2": {"datum": 2951.1}
          }
        },
        {
          "data": {"values": [{"p": 2952.15, "lab": "2952.150"}]},
          "mark": {"type": "text", "align": "left", "baseline": "middle", "color": "#ffffff", "fontSize": 9},
          "encoding": {
            "x": {"datum": 153.0, "type": "quantitative", "title": null},
            "y": {"field": "p", "type": "quantitative", "title": null},
            "text": {"field": "lab"}
          }
        },
        {
          "data": {"values": [{"i": 139, "p": 2954.85}]},
          "mark": {"type": "point", "filled": true, "fill": "#f6fff2", "stroke": "#62d048", "strokeWidth": 1.5, "size": 357, "opacity": 1,
            "shape": "M0,-1L0.9,-0.05L0.42,-0.05L0.42,1L-0.42,1L-0.42,-0.05L-0.9,-0.05Z"},
          "encoding": {
            "x": {"field": "i", "type": "quantitative", "title": null},
            "y": {"field": "p", "type": "quantitative", "title": null}
          }
        }
      ]
    },
    {
      "width": 1220,
      "height": 100,
      "layer": [
        {
          "data": {"name": "ao"},
          "mark": {"type": "bar", "size": 4, "clip": true},
          "encoding": {
            "x": {"field": "i", "type": "quantitative", "scale": {"domain": [0, 152.5], "nice": false, "zero": false},
              "axis": {"values": [0,4,8,12,16,20,24,28,32,36,40,44,48,52,56,60,64,68,72,76,80,84,88,92,96,100,104,108,112,116,120,124,128,132,136,140,144,148,152], "tickCount": 200, "labels": false, "ticks": false, "grid": true, "title": null}},
            "y": {"field": "v", "type": "quantitative", "scale": {"domain": [-40.8864, 28.6434], "nice": false, "zero": false},
              "axis": {"orient": "right", "values": [28.6434, 0, -40.8864], "tickCount": 10, "format": ".4f", "labelFlush": true, "labelOverlap": false, "title": null, "grid": true,
                "gridColor": {"condition": {"test": "datum.value === 0", "value": "#cccccc"}, "value": "transparent"}}},
            "y2": {"datum": 0},
            "color": {"field": "t", "type": "nominal", "legend": null, "scale": {"domain": ["up", "down"], "range": ["#008000", "#ff0000"]}}
          }
        },
        {
          "data": {"values": [{"lab": "AOcust 8.1919"}]},
          "mark": {"type": "text", "align": "left", "baseline": "top", "dy": 3},
          "encoding": {
            "x": {"datum": 0.5, "type": "quantitative", "title": null},
            "y": {"datum": 28.6434, "type": "quantitative", "title": null},
            "text": {"field": "lab"}
          }
        }
      ]
    },
    {
      "width": 1220,
      "height": 100,
      "layer": [
        {
          "data": {"name": "ac"},
          "mark": {"type": "bar", "size": 4, "clip": true},
          "encoding": {
            "x": {"field": "i", "type": "quantitative", "scale": {"domain": [0, 152.5], "nice": false, "zero": false},
              "axis": {"values": [0,4,8,12,16,20,24,28,32,36,40,44,48,52,56,60,64,68,72,76,80,84,88,92,96,100,104,108,112,116,120,124,128,132,136,140,144,148,152], "tickCount": 200, "labels": false, "ticks": false, "grid": true, "title": null}},
            "y": {"field": "v", "type": "quantitative", "scale": {"domain": [-13.8704, 10.41262], "nice": false, "zero": false},
              "axis": {"orient": "right", "values": [10.41262, 0, -13.8704], "tickCount": 10, "format": ".5f", "labelFlush": true, "labelOverlap": false, "title": null, "grid": true,
                "gridColor": {"condition": {"test": "datum.value === 0", "value": "#cccccc"}, "value": "transparent"}}},
            "y2": {"datum": 0},
            "color": {"field": "t", "type": "nominal", "legend": null, "scale": {"domain": ["up", "down"], "range": ["#008000", "#ff0000"]}}
          }
        },
        {
          "data": {"values": [{"lab": "ACcust 2.22001"}]},
          "mark": {"type": "text", "align": "left", "baseline": "top", "dy": 3},
          "encoding": {
            "x": {"datum": 0.5, "type": "quantitative", "title": null},
            "y": {"datum": 10.41262, "type": "quantitative", "title": null},
            "text": {"field": "lab"}
          }
        }
      ]
    },
    {
      "width": 1220,
      "height": 100,
      "layer": [
        {
          "data": {"name": "gator"},
          "mark": {"type": "bar", "size": 4, "clip": true},
          "encoding": {
            "x": {"field": "i", "type": "quantitative", "scale": {"domain": [0, 152.5], "nice": false, "zero": false},
              "axis": {"orient": "bottom", "values": [0,4,8,12,16,20,24,28,32,36,40,44,48,52,56,60,64,68,72,76,80,84,88,92,96,100,104,108,112,116,120,124,128,132,136,140,144,148,152], "tickCount": 200,
                "grid": true, "title": null, "tickSize": 5, "labelPadding": -1, "labelAlign": "left", "labelOffset": 1,
                "labelOverlap": false, "labelFlush": false, "labelBound": false,
                "tickColor": {"condition": {"test": "datum.value % 8 === 0 && datum.value <= 136", "value": "#000000"}, "value": "transparent"},
                "labelExpr": "(datum.value % 8 === 0 && datum.value <= 136) ? ['14 Feb 2025','17 Feb 07:00','17 Feb 15:00','18 Feb 02:00','18 Feb 10:00','18 Feb 18:00','19 Feb 03:00','19 Feb 11:00','19 Feb 19:00','20 Feb 04:00','20 Feb 12:00','20 Feb 20:00','21 Feb 05:00','21 Feb 13:00','21 Feb 21:00','24 Feb 06:00','24 Feb 14:00','24 Feb 22:00'][datum.value / 8] : ''"}},
            "y": {"field": "u", "type": "quantitative", "scale": {"domain": [-18.8428, 16.9049], "nice": false, "zero": false},
              "axis": {"orient": "right", "values": [16.9049, 0, -18.8428], "tickCount": 10, "format": ".4f", "labelFlush": true, "labelOverlap": false, "title": null, "grid": true,
                "gridColor": {"condition": {"test": "datum.value === 0", "value": "#cccccc"}, "value": "transparent"}}},
            "y2": {"datum": 0},
            "color": {"field": "ut", "type": "nominal", "legend": null, "scale": {"domain": ["up", "down"], "range": ["#008000", "#ff0000"]}}
          }
        },
        {
          "data": {"name": "gator"},
          "mark": {"type": "bar", "size": 4, "clip": true},
          "encoding": {
            "x": {"field": "i", "type": "quantitative", "title": null},
            "y": {"field": "d", "type": "quantitative", "title": null},
            "y2": {"datum": 0},
            "color": {"field": "dt", "type": "nominal", "legend": null, "scale": {"domain": ["up", "down"], "range": ["#008000", "#ff0000"]}}
          }
        },
        {
          "data": {"values": [{"lab": "GatorCust 4.1336 -3.6270"}]},
          "mark": {"type": "text", "align": "left", "baseline": "top", "dy": 3},
          "encoding": {
            "x": {"datum": 0.5, "type": "quantitative", "title": null},
            "y": {"datum": 16.9049, "type": "quantitative", "title": null},
            "text": {"field": "lab"}
          }
        }
      ]
    }
  ]
}
